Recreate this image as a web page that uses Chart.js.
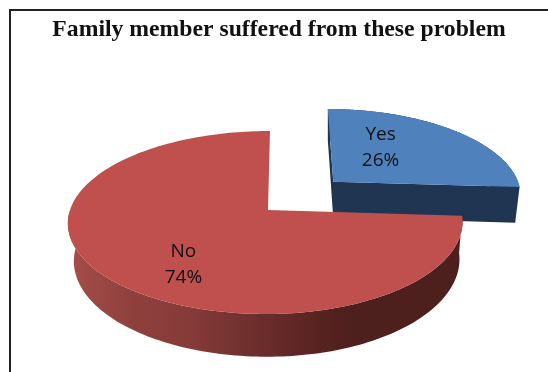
<!DOCTYPE html>
<html>
<head>
<meta charset="utf-8">
<script src="https://cdn.jsdelivr.net/npm/chart.js@4"></script>
<style>
  html, body { margin: 0; padding: 0; background: #fff; overflow: hidden; }
  #frame { position: absolute; left: 9px; top: 9px; width: 539px; height: 363px;
           border-left: 2px solid #222; border-top: 2px solid #222; box-sizing: border-box; }
  canvas { position: absolute; left: 0; top: 0; }
</style>
</head>
<body>
<div id="frame"></div>
<canvas id="chart" width="548" height="372"></canvas>
<script>
const categories = ['Yes', 'No'];
const shares = [26, 74];
const explode = [48, 0];
const faceColors = ['#4F81BD', '#BF504D'];
const wallColors = ['#1F3552', null];
const chartTitle = 'Family member suffered from these problem';

// Tilted-disc projection: plane coordinates (u right, v toward the viewer) to pixels.
const view = { shiftX: -11, rxRight: 193, rxLeft: 198, ry: 89.8, persp: 0.1366, shear: 2,
               depthX: 0.977, depthPivot: 61, depthY: 1.055, depthDrop: 37 };

function project(el, u, v) {
  const w = 1 - view.persp * v;
  const rx = u > 0 ? view.rxRight : view.rxLeft;
  return { dx: rx * u / w - view.shear * v, dy: view.ry * v / w };
}
const topPoint = (el, p) => ({ x: el.x + view.shiftX + p.dx, y: el.y + p.dy });
const lowPoint = (el, p) => ({
  x: el.x + view.shiftX + view.depthPivot + (p.dx - view.depthPivot) * view.depthX,
  y: el.y + p.dy * view.depthY + view.depthDrop
});

function slicePlane(el) {
  const mid = (el.startAngle + el.endAngle) / 2;
  const d = (el.options.offset || 0) / el.outerRadius;
  return { ox: Math.cos(mid) * d, oy: Math.sin(mid) * d, mid };
}

function rimSteps(el) {
  const { ox, oy } = slicePlane(el);
  const steps = [];
  for (let i = 0; i <= 200; i++) {
    const a = el.startAngle + (el.endAngle - el.startAngle) * i / 200;
    const p = project(el, ox + Math.cos(a), oy + Math.sin(a));
    steps.push({ top: topPoint(el, p), low: lowPoint(el, p), front: Math.sin(a) >= 0 });
  }
  return steps;
}

function addPolygon(ctx, pts) {
  pts.forEach((p, i) => i ? ctx.lineTo(p.x, p.y) : ctx.moveTo(p.x, p.y));
  ctx.closePath();
}

const tiltedPie = {
  id: 'tiltedPie',
  beforeDatasetsDraw(chart) {
    const ctx = chart.ctx;
    const arcs = chart.getDatasetMeta(0).data;
    ctx.save();
    arcs.forEach((el, i) => {
      const { ox, oy } = slicePlane(el);
      const apex = project(el, ox, oy);
      const rim = rimSteps(el);
      let wall = wallColors[i];

      // All wall pieces share one path so that no seams appear between them.
      ctx.beginPath();
      if (!wall) {
        // Outer wall of the large slice darkens from left to right.
        const gx = el.x + view.shiftX;
        wall = ctx.createLinearGradient(gx - 194, 0, gx + 192, 0);
        wall.addColorStop(0, '#A44C49');
        wall.addColorStop(0.15, '#8F403D');
        wall.addColorStop(0.3, '#863B39');
        wall.addColorStop(0.46, '#6E2F2D');
        wall.addColorStop(0.6, '#5C2523');
        wall.addColorStop(0.72, '#4D1F1D');
        wall.addColorStop(1, '#4D1F1D');
      } else {
        // Cut faces are only visible on the pulled-out slice.
        const a0 = topPoint(el, apex), a1 = lowPoint(el, apex);
        const first = rim[0], last = rim[rim.length - 1];
        addPolygon(ctx, [a0, a1, first.low, first.top]);
        addPolygon(ctx, [a0, last.top, last.low, a1]);
      }
      for (let k = 0; k < rim.length - 1; k++) {
        if (wallColors[i] || (rim[k].front && rim[k + 1].front)) {
          addPolygon(ctx, [rim[k].top, rim[k + 1].top, rim[k + 1].low, rim[k].low]);
        }
      }
      ctx.fillStyle = wall;
      ctx.fill('nonzero');

      ctx.beginPath();
      addPolygon(ctx, [topPoint(el, apex)].concat(rim.map(s => s.top)));
      ctx.fillStyle = el.options.backgroundColor;
      ctx.fill();
    });
    ctx.restore();
    return false;
  }
};

const labelReach = [0.55, 0.6];
const labelNudge = [[-21, -5], [8, 16]];

const sliceLabels = {
  id: 'sliceLabels',
  afterDraw(chart) {
    const ctx = chart.ctx;
    const total = shares.reduce((a, b) => a + b, 0);
    ctx.save();
    ctx.font = '19px "Open Sans"';
    ctx.fillStyle = '#111';
    ctx.textAlign = 'center';
    ctx.textBaseline = 'middle';
    chart.getDatasetMeta(0).data.forEach((el, i) => {
      const { ox, oy, mid } = slicePlane(el);
      const r = labelReach[i];
      const p = topPoint(el, project(el, ox + Math.cos(mid) * r, oy + Math.sin(mid) * r));
      const x = p.x + labelNudge[i][0], y = p.y + labelNudge[i][1];
      ctx.fillText(categories[i], x, y - 13);
      ctx.fillText(Math.round(shares[i] / total * 100) + '%', x, y + 13);
    });
    ctx.restore();
  }
};

new Chart(document.getElementById('chart'), {
  type: 'pie',
  data: {
    labels: categories,
    datasets: [{ data: shares, backgroundColor: faceColors, offset: explode, borderWidth: 0 }]
  },
  options: {
    responsive: false,
    animation: false,
    radius: 100,
    layout: { padding: { left: 10 } },
    plugins: {
      legend: { display: false },
      tooltip: { enabled: false },
      title: {
        display: true,
        text: chartTitle,
        color: '#111',
        font: { family: '"Liberation Serif"', size: 23.7, weight: 'bold', lineHeight: 1.2 },
        padding: { top: 15.8, bottom: 3.76 }
      }
    }
  },
  plugins: [tiltedPie, sliceLabels]
});
</script>
</body>
</html>
